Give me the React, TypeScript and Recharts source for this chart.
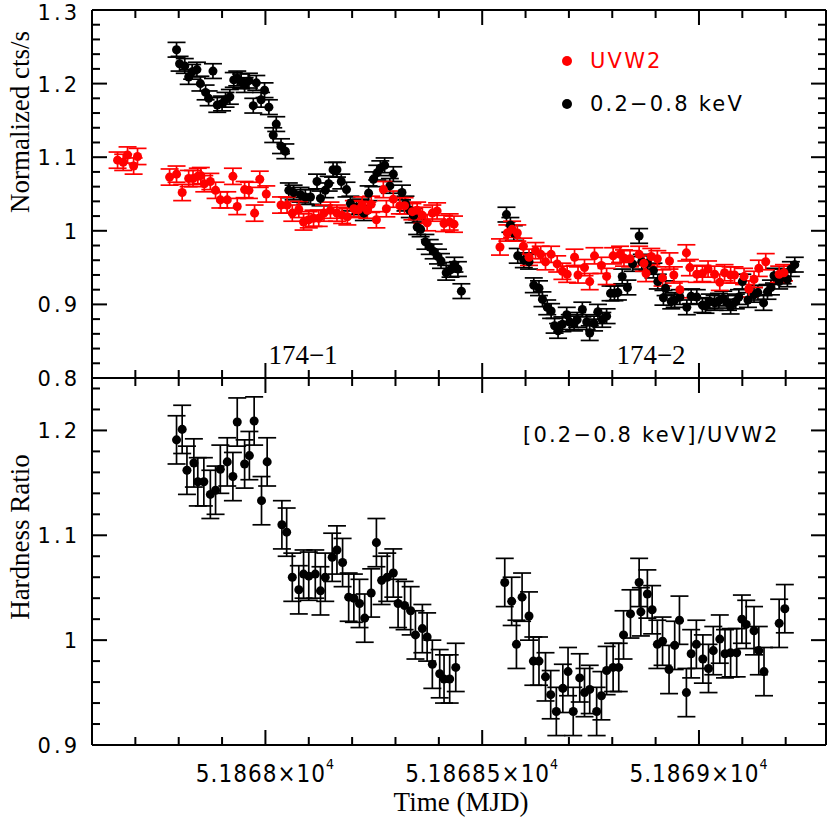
import React from "react";
import { ScatterChart, Scatter, XAxis, YAxis, ZAxis, ErrorBar } from "recharts";

// 0.2-0.8 keV light curve (normalized)
const softTime = [
  51867.795, 51867.802, 51867.814, 51867.823, 51867.831, 51867.842, 51867.85, 51867.862,
  51867.869, 51867.879, 51867.889, 51867.9, 51867.908, 51867.918, 51867.927, 51867.935,
  51867.944, 51867.952, 51867.962, 51867.972, 51867.979, 51867.99, 51867.998, 51868.008,
  51868.018, 51868.025, 51868.036, 51868.046, 51868.054, 51868.065, 51868.081, 51868.092,
  51868.104, 51868.119, 51868.127, 51868.138, 51868.146, 51868.156, 51868.165, 51868.175,
  51868.187, 51868.196, 51868.21, 51868.219, 51868.227, 51868.238, 51868.249, 51868.258,
  51868.265, 51868.275, 51868.287, 51868.295, 51868.315, 51868.323, 51868.333, 51868.342,
  51868.35, 51868.358, 51868.369, 51868.379, 51868.388, 51868.398, 51868.405, 51868.417,
  51868.427, 51868.436, 51868.444, 51868.452,
  51868.556, 51868.565, 51868.573, 51868.582, 51868.596, 51868.608, 51868.619, 51868.631,
  51868.639, 51868.65, 51868.659, 51868.667, 51868.675, 51868.685, 51868.695, 51868.702,
  51868.712, 51868.719, 51868.731, 51868.741, 51868.748, 51868.758, 51868.767, 51868.777,
  51868.787, 51868.796, 51868.805, 51868.813, 51868.823, 51868.835, 51868.847, 51868.862,
  51868.868, 51868.881, 51868.895, 51868.905, 51868.918, 51868.923, 51868.936, 51868.944,
  51868.956, 51868.972, 51868.982, 51868.995, 51869.008, 51869.015, 51869.025, 51869.036,
  51869.046, 51869.056, 51869.067, 51869.073, 51869.085, 51869.092, 51869.1, 51869.113,
  51869.127, 51869.136, 51869.149, 51869.158, 51869.166, 51869.173, 51869.185, 51869.193,
  51869.204, 51869.212, 51869.221,
];
const softRate = [
  1.246, 1.227, 1.224, 1.209, 1.216, 1.219, 1.2, 1.188,
  1.18, 1.217, 1.171, 1.173, 1.178, 1.182, 1.205, 1.207,
  1.203, 1.198, 1.204, 1.17, 1.201, 1.178, 1.191, 1.168,
  1.13, 1.145, 1.115, 1.108, 1.055, 1.052, 1.049, 1.046,
  1.046, 1.067, 1.044, 1.055, 1.064, 1.083, 1.083, 1.067,
  1.056, 1.037, 1.032, 1.033, 1.024, 1.051, 1.07, 1.079,
  1.085, 1.089, 1.061, 1.077, 1.052, 1.037, 1.028, 1.021,
  1.005, 1.002, 0.985, 0.978, 0.972, 0.965, 0.959, 0.943,
  0.947, 0.954, 0.948, 0.918,
  1.022, 1.008, 0.997, 0.966, 0.96, 0.958, 0.926, 0.922,
  0.907, 0.896, 0.891, 0.871, 0.864, 0.873, 0.886, 0.876,
  0.874, 0.879, 0.893, 0.876, 0.861, 0.874, 0.89, 0.879,
  0.884, 0.915, 0.915, 0.916, 0.938, 0.923, 0.955, 0.993,
  0.958, 0.956, 0.946, 0.931, 0.909, 0.922, 0.904, 0.906,
  0.91, 0.896, 0.911, 0.91, 0.899, 0.898, 0.904, 0.902,
  0.905, 0.908, 0.902, 0.897, 0.904, 0.91, 0.931, 0.906,
  0.913, 0.916, 0.902, 0.917, 0.923, 0.939, 0.931, 0.938,
  0.934, 0.948, 0.954,
];
const softErr = 0.01;

// UVW2 light curve (normalized)
const uvTime = [
  51867.659, 51867.672, 51867.682, 51867.696, 51867.705, 51867.779, 51867.795, 51867.808,
  51867.823, 51867.833, 51867.844, 51867.851, 51867.859, 51867.873, 51867.885, 51867.896,
  51867.912, 51867.925, 51867.935, 51867.952, 51867.962, 51867.975, 51867.987, 51868.002,
  51868.036, 51868.05, 51868.062, 51868.077, 51868.088, 51868.1, 51868.111, 51868.123,
  51868.135, 51868.15, 51868.165, 51868.177, 51868.189, 51868.204, 51868.215, 51868.223,
  51868.235, 51868.244, 51868.256, 51868.272, 51868.279, 51868.295, 51868.31, 51868.321,
  51868.339, 51868.35, 51868.362, 51868.373, 51868.385, 51868.396, 51868.412, 51868.425,
  51868.435,
  51868.541, 51868.558, 51868.569, 51868.581, 51868.595, 51868.608, 51868.623, 51868.635,
  51868.646, 51868.659, 51868.673, 51868.685, 51868.696, 51868.713, 51868.721, 51868.736,
  51868.748, 51868.759, 51868.775, 51868.787, 51868.802, 51868.818, 51868.827, 51868.841,
  51868.862, 51868.873, 51868.878, 51868.89, 51868.904, 51868.916, 51868.932, 51868.942,
  51868.956, 51868.971, 51868.979, 51868.995, 51869.008, 51869.021, 51869.036, 51869.048,
  51869.059, 51869.073, 51869.082, 51869.104, 51869.115, 51869.127, 51869.138, 51869.154,
  51869.185, 51869.196,
];
const uvRate = [
  1.096, 1.093, 1.103, 1.088, 1.101, 1.073, 1.077, 1.052,
  1.071, 1.071, 1.074, 1.075, 1.064, 1.067, 1.055, 1.042,
  1.042, 1.074, 1.033, 1.056, 1.055, 1.024, 1.07, 1.05,
  1.035, 1.035, 1.024, 1.029, 1.012, 1.015, 1.017, 1.017,
  1.024, 1.028, 1.024, 1.021, 1.019, 1.03, 1.029, 1.035,
  1.028, 1.036, 1.015, 1.056, 1.03, 1.043, 1.034, 1.034,
  1.026, 1.028, 1.021, 1.011, 1.024, 1.027, 1.01, 1.012,
  1.009,
  0.978, 0.997, 1.002, 0.997, 0.979, 0.964, 0.973, 0.968,
  0.958, 0.968, 0.955, 0.945, 0.941, 0.964, 0.94, 0.95,
  0.931, 0.966, 0.953, 0.938, 0.966, 0.968, 0.963, 0.962,
  0.968, 0.956, 0.942, 0.965, 0.962, 0.936, 0.959, 0.94,
  0.92, 0.97, 0.95, 0.941, 0.942, 0.948, 0.941, 0.93,
  0.943, 0.94, 0.94, 0.938, 0.921, 0.934, 0.949, 0.958,
  0.941, 0.943,
];
const uvErr = 0.011;

// hardness ratio [0.2-0.8 keV]/UVW2
const hrTime = [
  51867.795, 51867.808, 51867.819, 51867.835, 51867.844, 51867.858, 51867.873, 51867.885,
  51867.896, 51867.912, 51867.925, 51867.935, 51867.952, 51867.963, 51867.974, 51867.991,
  51868.004, 51868.038, 51868.049, 51868.062, 51868.077, 51868.088, 51868.1, 51868.115,
  51868.127, 51868.138, 51868.154, 51868.165, 51868.178, 51868.192, 51868.204, 51868.217,
  51868.229, 51868.244, 51868.256, 51868.268, 51868.281, 51868.295, 51868.306, 51868.321,
  51868.335, 51868.346, 51868.362, 51868.373, 51868.385, 51868.402, 51868.412, 51868.425,
  51868.439,
  51868.552, 51868.568, 51868.579, 51868.592, 51868.608, 51868.618, 51868.631, 51868.646,
  51868.658, 51868.671, 51868.686, 51868.698, 51868.71, 51868.725, 51868.736, 51868.748,
  51868.764, 51868.775, 51868.787, 51868.802, 51868.815, 51868.826, 51868.842, 51868.862,
  51868.866, 51868.881, 51868.892, 51868.904, 51868.916, 51868.931, 51868.944, 51868.955,
  51868.971, 51868.982, 51868.994, 51869.009, 51869.022, 51869.033, 51869.048, 51869.06,
  51869.073, 51869.087, 51869.099, 51869.109, 51869.127, 51869.138, 51869.15, 51869.185,
  51869.198,
];
const hrValue = [
  1.191, 1.201, 1.162, 1.169, 1.151, 1.151, 1.139, 1.143,
  1.163, 1.17, 1.156, 1.208, 1.168, 1.176, 1.209, 1.133,
  1.17, 1.11, 1.103, 1.06, 1.048, 1.063, 1.061, 1.063,
  1.047, 1.06, 1.079, 1.086, 1.074, 1.041, 1.04, 1.035,
  1.021, 1.045, 1.093, 1.057, 1.06, 1.064, 1.035, 1.033,
  1.028, 1.005, 1.011, 1.003, 0.977, 0.968, 0.963, 0.963,
  0.974,
  1.055, 1.037, 0.996, 1.041, 1.023, 0.98, 0.98, 0.965,
  0.948, 0.932, 0.954, 0.97, 0.932, 0.964, 0.95, 0.953,
  0.932, 0.947, 0.971, 0.974, 0.974, 1.005, 1.025, 1.055,
  1.027, 1.044, 1.029, 0.996, 0.999, 0.972, 0.995, 1.019,
  0.95, 0.987, 0.996, 0.982, 0.973, 0.99, 1.001, 0.987,
  0.988, 0.988, 1.02, 1.015, 1.009, 0.99, 0.97, 1.016,
  1.03,
];
const hrErr = 0.023;

// axes
const timeDomain = [51867.6, 51869.293];
const timeTicks = [
  51867.7, 51867.8, 51867.9, 51868, 51868.1, 51868.2, 51868.3, 51868.4, 51868.5,
  51868.6, 51868.7, 51868.8, 51868.9, 51869, 51869.1, 51869.2,
];
const timeMajor = [51868, 51868.5, 51869];
const timeLabels = ["5.1868", "5.18685", "5.1869"];

const rateDomain = [0.8, 1.3];
const rateMajor = [0.8, 0.9, 1, 1.1, 1.2, 1.3];
const rateLabels = ["0.8", "0.9", "1", "1.1", "1.2", "1.3"];

const hrDomain = [0.9, 1.25];
const hrMajor = [0.9, 1, 1.1, 1.2];
const hrLabels = ["0.9", "1", "1.1", "1.2"];

const steps = (from: number, to: number, step: number) => {
  const out: number[] = [];
  for (let v = from; v <= to + 1e-9; v += step) out.push(+v.toFixed(3));
  return out;
};
const rateTicks = steps(0.82, 1.28, 0.02);
const hrTicks = steps(0.92, 1.24, 0.02);

const toRows = (t: number[], v: number[], e: number) =>
  t.map((time, i) => ({ t: time, v: v[i], e }));

const softRows = toRows(softTime, softRate, softErr);
const uvRows = toRows(uvTime, uvRate, uvErr);
const hrRows = toRows(hrTime, hrValue, hrErr);

const near = (a: number, b: number) => Math.abs(a - b) < 1e-6;
const isIn = (list: number[], v: number) => list.some((m) => near(m, v));

// page layout (px): both panels share the same x extent
const W = 830;
const LEFT = 92;
const RIGHT = 826;
const TOP_PANEL = [10, 378];
const BOTTOM_PANEL = [378, 745];

const FRAME = { stroke: "#000", strokeWidth: 2 };
const tickFont = "'DejaVu Sans', sans-serif";

// inward tick marks for one panel frame, as thin filled bars
function frameTicks(key: string, panel: number[], yDomain: number[], yTicks: number[], yMajor: number[]) {
  const [pTop, pBot] = panel;
  const xPx = (t: number) => LEFT + ((t - timeDomain[0]) / (timeDomain[1] - timeDomain[0])) * (RIGHT - LEFT);
  const yPx = (v: number) => pBot - ((v - yDomain[0]) / (yDomain[1] - yDomain[0])) * (pBot - pTop);
  const out: any[] = [];
  timeTicks.forEach((t, i) => {
    const L = isIn(timeMajor, t) ? 15 : 8;
    const x = xPx(t) - 1;
    out.push(<rect key={`${key}t${i}`} x={x} y={pTop} width={2} height={L} fill="#000" />);
    out.push(<rect key={`${key}b${i}`} x={x} y={pBot - L} width={2} height={L} fill="#000" />);
  });
  yTicks.forEach((v, i) => {
    const L = isIn(yMajor, v) ? 15 : 8;
    const y = yPx(v) - 1;
    out.push(<rect key={`${key}l${i}`} x={LEFT} y={y} width={L} height={2} fill="#000" />);
    out.push(<rect key={`${key}r${i}`} x={RIGHT - L} y={y} width={L} height={2} fill="#000" />);
  });
  return out;
}

const YLabel = (majors: number[], labels: string[]) => (props: any) => {
  const idx = majors.findIndex((m) => near(m, props.payload.value));
  if (idx < 0) return <g />;
  return (
    <text
      x={Number(props.x) - 12}
      y={Math.max(Number(props.y) + 1, 13)}
      textAnchor="end"
      dominantBaseline="central"
      fill="#000"
      fontFamily={tickFont}
      fontSize={21}
      letterSpacing={3}
    >
      {labels[idx]}
    </text>
  );
};

const XLabel = (props: any) => {
  const idx = timeMajor.findIndex((m) => near(m, props.payload.value));
  if (idx < 0) return <g />;
  return (
    <text
      x={Number(props.x)}
      y={Number(props.y) + 29}
      textAnchor="middle"
      dominantBaseline="central"
      fill="#000"
      fontFamily="'DejaVu Sans Condensed', 'Liberation Sans Narrow', 'DejaVu Sans', sans-serif"
      fontSize={24}
      letterSpacing={1}
    >
      {timeLabels[idx]}×10
      <tspan dy={-10} fontSize={14}>
        4
      </tspan>
    </text>
  );
};

function errorBar(color: string) {
  return <ErrorBar dataKey="e" direction="y" width={9} stroke={color} strokeWidth={1.7} isAnimationActive={false} />;
}

function frameAxes() {
  return [
    <XAxis key="top" xAxisId="top" type="number" domain={timeDomain} orientation="top" mirror tick={false} axisLine={FRAME} />,
    <YAxis key="right" yAxisId="right" type="number" orientation="right" mirror tick={false} axisLine={FRAME} />,
  ];
}

export default function App() {
  const txt = { fontFamily: tickFont, fontSize: 21, letterSpacing: 2.2 };
  const serif = { fontFamily: "'Liberation Serif', 'DejaVu Serif', serif" };
  return (
    <div
      style={{
        position: "absolute",
        left: 0,
        top: 0,
        width: W,
        height: 817,
        background: "#fff",
      }}
    >
      {/* lower panel: hardness ratio */}
      <div style={{ position: "absolute", left: 0, top: BOTTOM_PANEL[0] }}>
        <ScatterChart width={W} height={439} margin={{ top: 0, right: W - RIGHT, bottom: 0, left: 0 }}>
          <ZAxis range={[80, 80]} />
          <XAxis
            xAxisId="x"
            dataKey="t"
            type="number"
            domain={timeDomain}
            allowDataOverflow
            ticks={timeMajor}
            interval={0}
            height={439 - (BOTTOM_PANEL[1] - BOTTOM_PANEL[0])}
            tickSize={0}
            tickMargin={0}
            tickLine={false}
            axisLine={FRAME}
            tick={XLabel}
          />
          <YAxis
            yAxisId="y"
            dataKey="v"
            type="number"
            domain={hrDomain}
            allowDataOverflow
            ticks={hrMajor}
            interval={0}
            width={LEFT}
            tickSize={0}
            tickMargin={0}
            tickLine={false}
            axisLine={FRAME}
            tick={YLabel(hrMajor, hrLabels)}
          />
          {frameAxes()}
          <Scatter xAxisId="x" yAxisId="y" data={hrRows} fill="#000" isAnimationActive={false}>
            {errorBar("#000")}
          </Scatter>
        </ScatterChart>
      </div>

      {/* upper panel: light curves */}
      <div style={{ position: "absolute", left: 0, top: 0 }}>
        <ScatterChart width={W} height={392} margin={{ top: TOP_PANEL[0], right: W - RIGHT, bottom: 392 - TOP_PANEL[1], left: 0 }}>
          <ZAxis range={[80, 80]} />
          <XAxis
            xAxisId="x"
            dataKey="t"
            type="number"
            domain={timeDomain}
            allowDataOverflow
            orientation="bottom"
            mirror
            tick={false}
            axisLine={FRAME}
          />
          <YAxis
            yAxisId="y"
            dataKey="v"
            type="number"
            domain={rateDomain}
            allowDataOverflow
            ticks={rateMajor}
            interval={0}
            width={LEFT}
            tickSize={0}
            tickMargin={0}
            tickLine={false}
            axisLine={FRAME}
            tick={YLabel(rateMajor, rateLabels)}
          />
          {frameAxes()}
          <Scatter xAxisId="x" yAxisId="y" data={softRows} fill="#000" isAnimationActive={false}>
            {errorBar("#000")}
          </Scatter>
          <Scatter xAxisId="x" yAxisId="y" data={uvRows} fill="#ff0000" isAnimationActive={false}>
            {errorBar("#ff0000")}
          </Scatter>
        </ScatterChart>
      </div>

      <svg
        width={W}
        height={817}
        style={{ position: "absolute", left: 0, top: 0, pointerEvents: "none" }}
      >
        {frameTicks("a", TOP_PANEL, rateDomain, rateTicks, rateMajor)}
        {frameTicks("b", BOTTOM_PANEL, hrDomain, hrTicks, hrMajor)}
        <text x={20} y={122} transform="rotate(-90 20 122)" textAnchor="middle" dominantBaseline="central" fontSize={27} {...serif}>
          Normalized cts/s
        </text>
        <text x={20} y={537} transform="rotate(-90 20 537)" textAnchor="middle" dominantBaseline="central" fontSize={27} {...serif}>
          Hardness Ratio
        </text>
        <text x={461} y={802} textAnchor="middle" dominantBaseline="central" fontSize={27} {...serif}>
          Time (MJD)
        </text>
        <text x={303} y={355} textAnchor="middle" dominantBaseline="central" fontSize={27} {...serif}>
          174−1
        </text>
        <text x={651} y={355} textAnchor="middle" dominantBaseline="central" fontSize={27} {...serif}>
          174−2
        </text>
        <circle cx={567} cy={61} r={5} fill="#ff0000" />
        <text x={590} y={61} dominantBaseline="central" fill="#ff0000" {...txt}>
          UVW2
        </text>
        <circle cx={567} cy={104} r={5} fill="#000" />
        <text x={590} y={104} dominantBaseline="central" fill="#000" {...txt}>
          0.2−0.8 keV
        </text>
        <text x={523} y={435} dominantBaseline="central" fill="#000" {...txt}>
          [0.2−0.8 keV]/UVW2
        </text>
      </svg>
    </div>
  );
}
